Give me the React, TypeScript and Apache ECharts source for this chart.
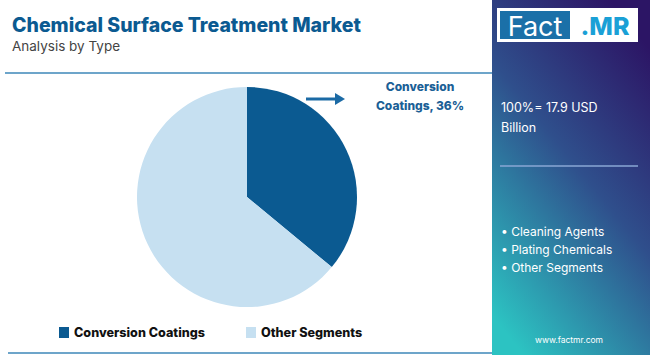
import React, { useEffect, useRef } from "react";
import * as echarts from "echarts";

const categories = ["Conversion Coatings", "Other Segments"];
const values = [36, 64];
const colors = ["#0b5a91", "#c6e0f1"];
const totalLabel = ["100%= 17.9 USD", "Billion"];
const otherSegments = ["Cleaning Agents", "Plating Chemicals", "Other Segments"];
const FONT = "Inter, 'Open Sans', sans-serif";

export default function App() {
  const ref = useRef<HTMLDivElement>(null);
  useEffect(() => {
    if (!ref.current) return;
    const chart = echarts.init(ref.current, undefined, { renderer: "svg" });
    chart.setOption({
      animation: false,
      backgroundColor: "#ffffff",
      title: [
        {
          text: "Chemical Surface Treatment Market",
          left: 7,
          top: 10,
          textStyle: { fontFamily: FONT, fontSize: 19.5, fontWeight: 800, color: "#0b5a91" },
        },
        {
          text: "Analysis by Type",
          left: 7,
          top: 34,
          textStyle: { fontFamily: FONT, fontSize: 13.5, fontWeight: 400, color: "#444444" },
        },
      ],
      legend: {
        data: categories,
        left: 54,
        top: 321,
        itemWidth: 10,
        itemHeight: 11,
        itemGap: 41,
        icon: "rect",
        textStyle: { fontFamily: FONT, fontSize: 12.6, fontWeight: 800, color: "#111111" },
      },
      graphic: [
        {
          type: "rect",
          shape: { x: 492, y: 0, width: 158, height: 355 },
          style: {
            fill: new echarts.graphic.LinearGradient(0.75, 0, 0.2, 1, [
              { offset: 0, color: "#2c1565" },
              { offset: 0.45, color: "#2f4f8c" },
              { offset: 1, color: "#2cc3c2" },
            ]),
          },
        },
        { type: "line", shape: { x1: 5, y1: 73, x2: 492, y2: 73 }, style: { stroke: "#3c87b8", lineWidth: 1.5 } },
        { type: "line", shape: { x1: 8, y1: 353, x2: 492, y2: 353 }, style: { stroke: "#3c87b8", lineWidth: 1.5 } },
        { type: "rect", shape: { x: 497, y: 8, width: 141, height: 34 }, style: { fill: "#ffffff" } },
        { type: "rect", shape: { x: 500, y: 11, width: 70, height: 28 }, style: { fill: "#1b70a8" } },
        {
          type: "text",
          x: 535,
          y: 26,
          style: { text: "Fact", fill: "#ffffff", fontFamily: FONT, fontSize: 27, fontWeight: 400, align: "center", verticalAlign: "middle" },
        },
        {
          type: "text",
          x: 605,
          y: 26,
          style: { text: ".MR", fill: "#1aa0d6", fontFamily: FONT, fontSize: 25, fontWeight: 800, align: "center", verticalAlign: "middle" },
        },
        {
          type: "text",
          x: 501,
          y: 97,
          style: { text: totalLabel.join("\n"), fill: "#ffffff", fontFamily: FONT, fontSize: 12.5, lineHeight: 20 },
        },
        { type: "line", shape: { x1: 500, y1: 166, x2: 638, y2: 166 }, style: { stroke: "#8aa7d4", lineWidth: 1.5 } },
        {
          type: "text",
          x: 501,
          y: 222,
          style: {
            text: otherSegments.map((s) => "• " + s).join("\n"),
            fill: "#ffffff",
            fontFamily: FONT,
            fontSize: 12,
            lineHeight: 18,
          },
        },
        {
          type: "text",
          x: 569,
          y: 340,
          style: { text: "www.factmr.com", fill: "#ffffff", fontFamily: FONT, fontSize: 8.5, align: "center", verticalAlign: "middle" },
        },
        { type: "line", shape: { x1: 306, y1: 99, x2: 336, y2: 99 }, style: { stroke: "#1b6aa5", lineWidth: 3 } },
        { type: "polygon", shape: { points: [[335, 93], [345, 99], [335, 105]] }, style: { fill: "#1b6aa5" } },
        {
          type: "text",
          x: 420,
          y: 96,
          style: {
            text: categories[0].replace(" ", "\n") + ", " + values[0] + "%",
            fill: "#1b5f96",
            fontFamily: FONT,
            fontSize: 12,
            fontWeight: 800,
            lineHeight: 19,
            align: "center",
            verticalAlign: "middle",
          },
        },
      ],
      series: [
        {
          type: "pie",
          center: [247, 197],
          radius: [0, 110],
          startAngle: 90,
          clockwise: true,
          silent: true,
          label: { show: false },
          labelLine: { show: false },
          itemStyle: { borderWidth: 0 },
          data: categories.map((c, i) => ({ name: c, value: values[i], itemStyle: { color: colors[i] } })),
        },
      ],
    });
    return () => chart.dispose();
  }, []);
  return <div ref={ref} style={{ position: "fixed", left: 0, top: 0, width: 650, height: 355 }} />;
}
